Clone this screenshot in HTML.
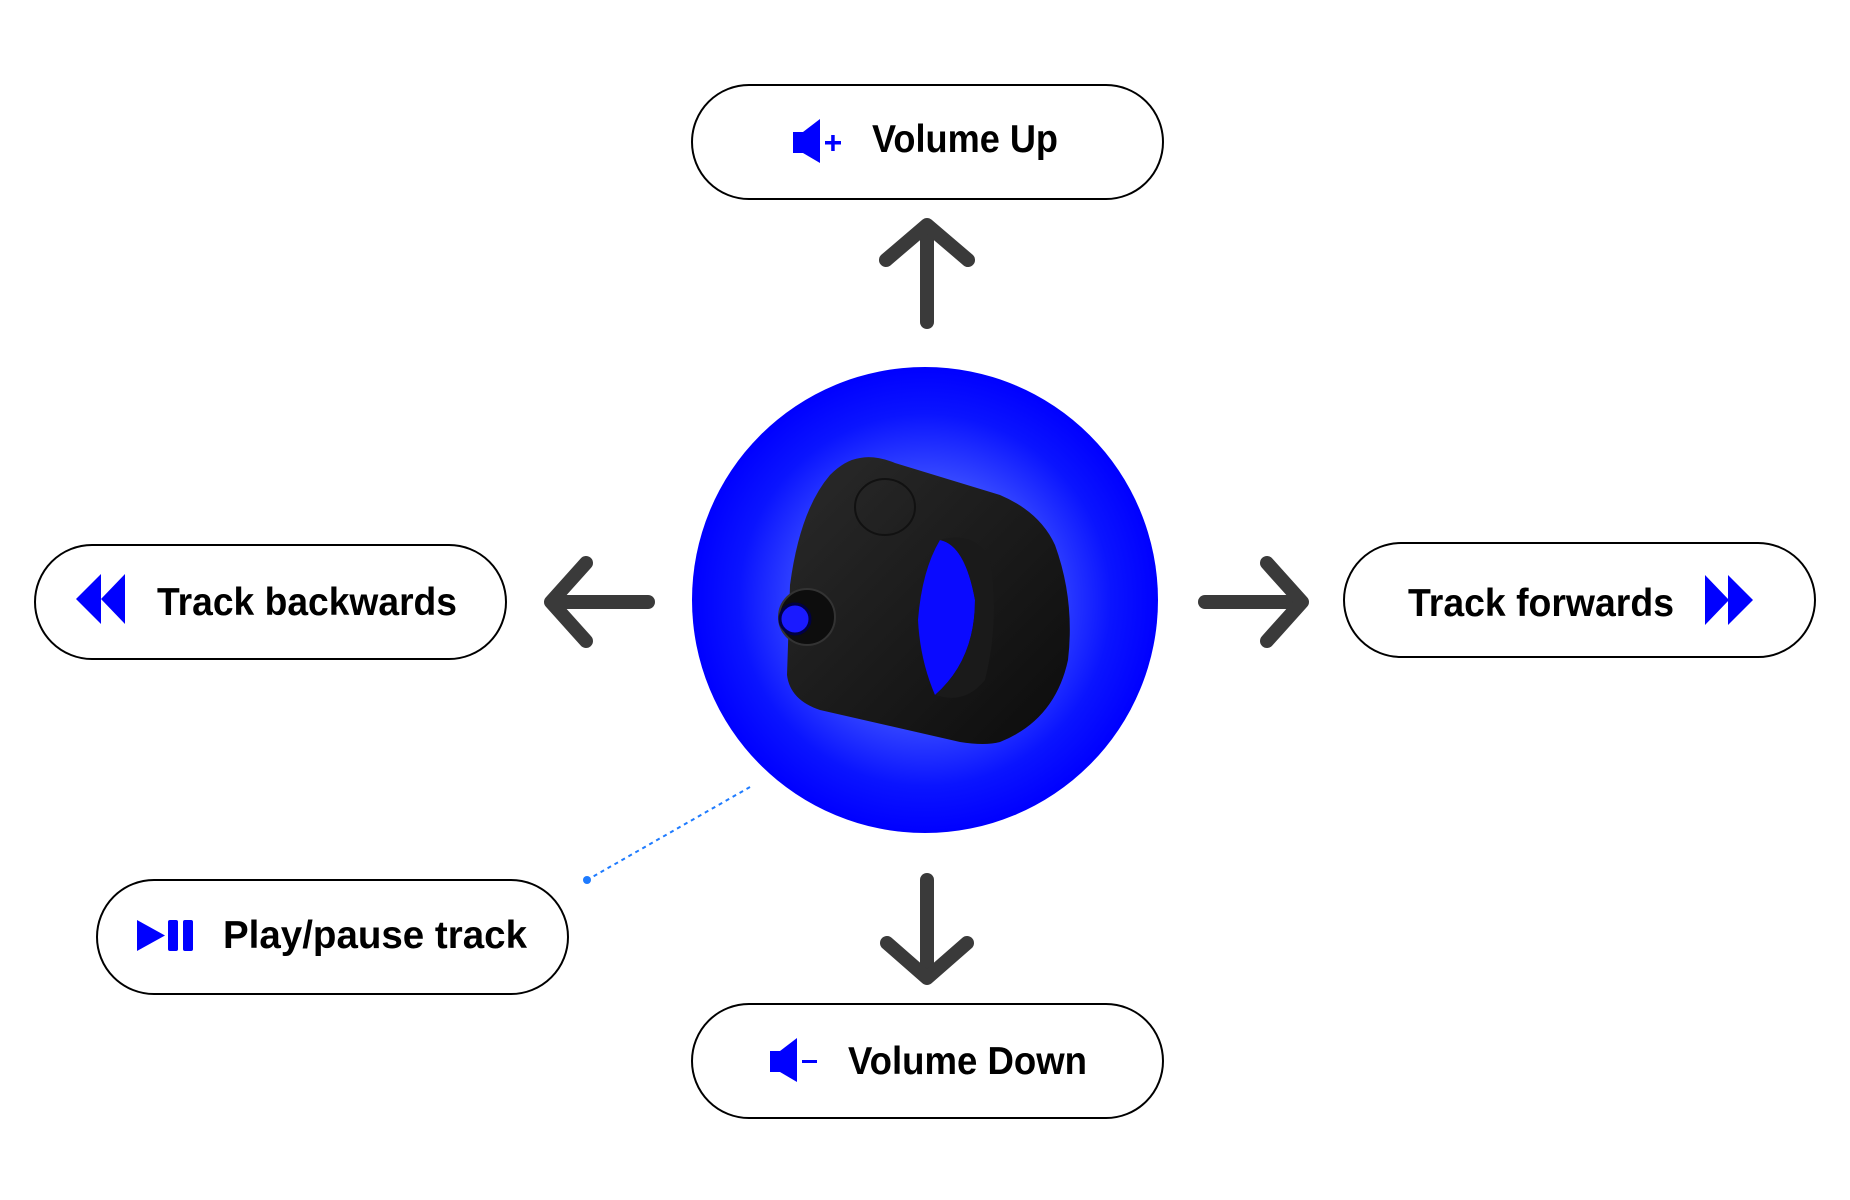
<!DOCTYPE html>
<html><head><meta charset="utf-8"><style>html,body{margin:0;padding:0;background:#fff}svg{display:block}</style></head>
<body>
<svg width="1850" height="1200" viewBox="0 0 1850 1200" xmlns="http://www.w3.org/2000/svg">
<defs>
<radialGradient id="g" cx="0.5" cy="0.5" r="0.5">
<stop offset="0" stop-color="#6e84ff"/><stop offset="0.45" stop-color="#4257ff"/><stop offset="0.8" stop-color="#0a14ff"/><stop offset="1" stop-color="#0000ff"/>
</radialGradient>
<linearGradient id="rg" x1="0" y1="0" x2="1" y2="1"><stop offset="0" stop-color="#2a2a2a"/><stop offset="1" stop-color="#0c0c0c"/></linearGradient>
</defs>
<g fill="#fff" stroke="#000" stroke-width="2">
<rect x="692" y="85" width="471" height="114" rx="57"/>
<rect x="35" y="545" width="471" height="114" rx="57"/>
<rect x="1344" y="543" width="471" height="114" rx="57"/>
<rect x="97" y="880" width="471" height="114" rx="57"/>
<rect x="692" y="1004" width="471" height="114" rx="57"/>
</g>
<g font-family="Liberation Sans, sans-serif" font-weight="bold" font-size="39" fill="#000">
<text x="872" y="152" textLength="186" lengthAdjust="spacingAndGlyphs">Volume Up</text>
<text x="157" y="615" textLength="300" lengthAdjust="spacingAndGlyphs">Track backwards</text>
<text x="1408" y="616" textLength="266" lengthAdjust="spacingAndGlyphs">Track forwards</text>
<text x="223" y="948" textLength="304" lengthAdjust="spacingAndGlyphs">Play/pause track</text>
<text x="848" y="1074" textLength="239" lengthAdjust="spacingAndGlyphs">Volume Down</text>
</g>
<g fill="#0000ff">
<rect x="793" y="132" width="12" height="21"/><polygon points="803,132 820,119 820,163 803,153"/>
<rect x="825" y="141" width="16" height="3.5"/><rect x="831.2" y="135" width="3.5" height="16"/>
<rect x="770" y="1051" width="12" height="21"/><polygon points="780,1051 797,1038 797,1082 780,1072"/>
<rect x="802" y="1060" width="15" height="3"/>
<polygon points="76,599 101,574 101,624"/><polygon points="101,599 125,574 125,624"/>
<polygon points="1705,575 1729,600 1705,625"/><polygon points="1728,575 1753,600 1728,625"/>
<polygon points="137,920 165,935.5 137,951"/>
<rect x="168" y="920" width="10" height="31" rx="2"/><rect x="183" y="920" width="10" height="31" rx="2"/>
</g>
<g stroke="#3a3a3a" stroke-width="14" stroke-linecap="round" stroke-linejoin="round" fill="none">
<line x1="927" y1="228" x2="927" y2="322"/><polyline points="886,260 927,225 968,260"/>
<line x1="553" y1="602" x2="648" y2="602"/><polyline points="586,563 551,602 586,641"/>
<line x1="1205" y1="602" x2="1300" y2="602"/><polyline points="1267,563 1302,602 1267,641"/>
<line x1="927" y1="880" x2="927" y2="975"/><polyline points="887,943 927,978 967,943"/>
</g>
<line x1="750" y1="787" x2="587" y2="880" stroke="#1e7bff" stroke-width="2" stroke-dasharray="4,4"/>
<circle cx="587" cy="880" r="4" fill="#1e7bff"/>
<circle cx="925" cy="600" r="233" fill="url(#g)"/>
<path d="M860,458 Q875,455 895,463 L1000,495 Q1040,512 1055,545 Q1075,600 1068,660 Q1055,720 1000,742 Q985,746 960,742 L820,710 Q790,700 787,675 L790,585 Q800,510 830,475 Q845,460 860,458 Z" fill="url(#rg)"/>
<path d="M940,540 Q965,545 975,600 Q975,660 935,695 Q920,660 918,620 Q922,570 940,540 Z" fill="#0a0aff"/>
<path d="M940,540 Q975,530 990,560 Q1000,620 985,680 Q965,705 935,695 Q975,660 975,600 Q965,545 940,540 Z" fill="#1a1a1a"/>
<ellipse cx="885" cy="507" rx="30" ry="28" fill="none" stroke="#111" stroke-width="2"/>
<circle cx="807" cy="617" r="28" fill="#0d0d0d" stroke="#333" stroke-width="2"/>
<circle cx="795" cy="619" r="15" fill="#1a1aff" stroke="#000044" stroke-width="3"/>
</svg>
</body></html>
